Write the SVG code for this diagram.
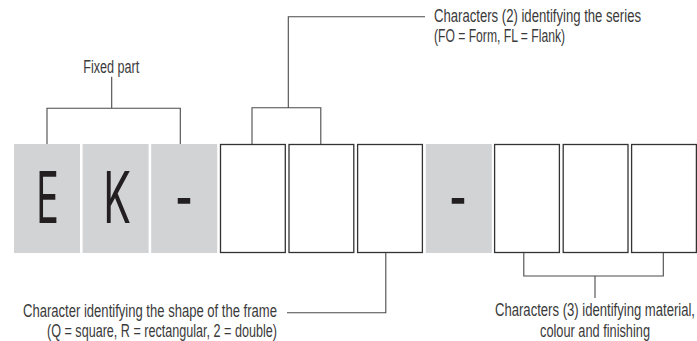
<svg xmlns="http://www.w3.org/2000/svg" width="697" height="341" viewBox="0 0 697 341">
<style>
.g{fill:#d1d3d4}
.w{fill:#fff;stroke:#333;stroke-width:1.3}
.big{font-family:Inter,"Liberation Sans",sans-serif;font-weight:400;font-size:71px;fill:#231f20;text-anchor:middle}
.lbl{font-family:"Liberation Sans",Arial,sans-serif;font-size:17.5px;fill:#3a3a3a}
.e{text-anchor:end}
.m{text-anchor:middle}
.c{fill:none;stroke:#4a4a4a;stroke-width:1.1}
</style>
<rect width="697" height="341" fill="#fff"/>
<g id="box1"><rect class="g" x="14" y="144" width="66" height="109"/><text class="big" transform="translate(47.5,223) scale(0.53,1)">E</text></g>
<g id="box2"><rect class="g" x="82.6" y="144" width="66" height="109"/><text class="big" transform="translate(117,223) scale(0.58,1)">K</text></g>
<g id="box3"><rect class="g" x="151.2" y="144" width="66" height="109"/><text class="big" transform="translate(184,223) scale(0.55,1)">-</text></g>
<g id="box4"><rect class="w" x="220.5" y="144.5" width="64.8" height="108"/></g>
<g id="box5"><rect class="w" x="289" y="144.5" width="64.8" height="108"/></g>
<g id="box6"><rect class="w" x="357.6" y="144.5" width="64.8" height="108"/></g>
<g id="box7"><rect class="g" x="425.8" y="144" width="66" height="109"/><text class="big" transform="translate(458,223) scale(0.55,1)">-</text></g>
<g id="box8"><rect class="w" x="494.6" y="144.5" width="64.8" height="108"/></g>
<g id="box9"><rect class="w" x="563.2" y="144.5" width="64.8" height="108"/></g>
<g id="box10"><rect class="w" x="631.6" y="144.5" width="64.8" height="108"/></g>
<g id="labels">
<text class="lbl m" x="111.3" y="73" textLength="56" lengthAdjust="spacingAndGlyphs">Fixed part</text>
<text class="lbl e" x="641" y="22" textLength="207" lengthAdjust="spacingAndGlyphs">Characters (2) identifying the series</text>
<text class="lbl" x="434" y="41.5" textLength="131" lengthAdjust="spacingAndGlyphs">(FO = Form, FL = Flank)</text>
<text class="lbl" x="23" y="316.5" textLength="254" lengthAdjust="spacingAndGlyphs">Character identifying the shape of the frame</text>
<text class="lbl" x="47" y="336.5" textLength="230" lengthAdjust="spacingAndGlyphs">(Q = square, R = rectangular, 2 = double)</text>
<text class="lbl e" x="695" y="316" textLength="200" lengthAdjust="spacingAndGlyphs">Characters (3) identifying material,</text>
<text class="lbl m" x="595" y="336.5" textLength="110" lengthAdjust="spacingAndGlyphs">colour and finishing</text>
</g>
<g id="connectors">
<path class="c" d="M111.7,76.7V108.3M47,144V108.3H180.3V144"/>
<path class="c" d="M425,16.7H288.3V107.7M252,144V107.7H320.8V144"/>
<path class="c" d="M287,312.7H385.8V253"/>
<path class="c" d="M523.8,253V276H663.3V253M595,276V298"/>
</g>
</svg>
